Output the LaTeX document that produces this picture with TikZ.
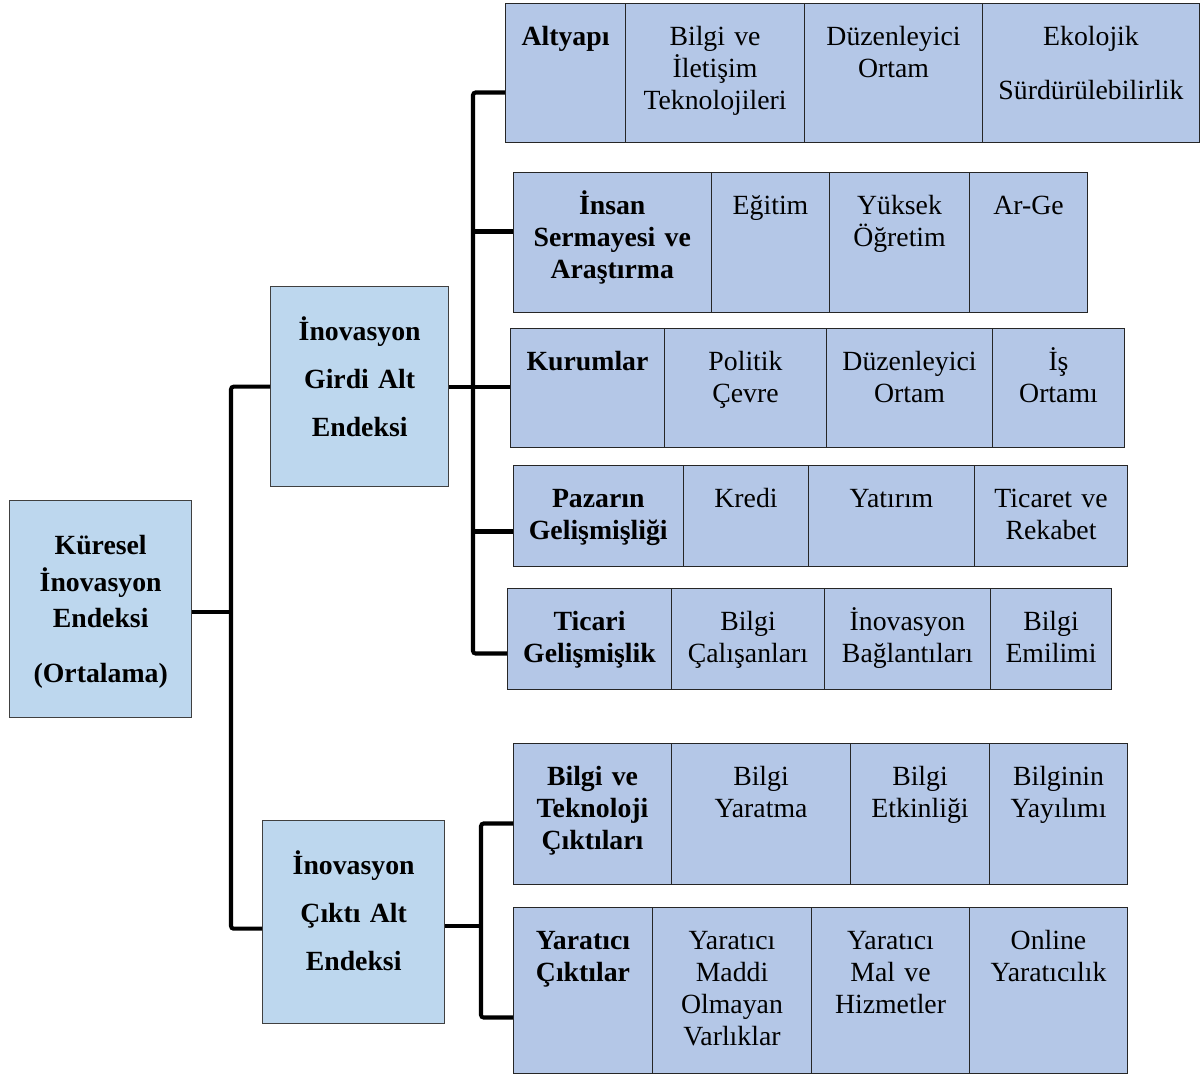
\documentclass[tikz,border=0pt]{standalone}
\usepackage{fontspec}
\setmainfont{Liberation Serif}
\usetikzlibrary{calc}

\begin{document}
\begin{tikzpicture}[
  x=0.02cm, y=-0.02cm,
  mainbox/.style={draw=black!75, line width=0.8pt, rectangle, fill=rootblue, align=center, font=\fontsize{15.8}{18.2}\selectfont\bfseries, inner sep=0pt, anchor=north west, text height=1.08cm},
  cellbox/.style={draw=black!85, line width=0.6pt, rectangle, fill=cellblue, align=center, font=\fontsize{15.8}{18.2}\selectfont, inner sep=0pt, anchor=north west, text height=0.84cm},
  pillar/.style={cellbox, font=\fontsize{15.8}{18.2}\selectfont\bfseries},
  conn/.style={line width=2.3pt, rounded corners=1.5pt}
]
\definecolor{rootblue}{RGB}{189,215,238}
\definecolor{cellblue}{RGB}{180,199,231}

\useasboundingbox (0,0) rectangle (1200,1074);

% ==================== LEFT: index and sub-indices ====================
\node[mainbox, text width=3.64cm, text depth=3.26cm] (kuresel) at (9,500)
  {Küresel\\[2.6pt]İnovasyon\\[2.6pt]Endeksi\\[13.1pt](Ortalama)};
\node[mainbox, text width=3.56cm, text depth=2.92cm] (girdi) at (270,286)
  {İnovasyon\\[9.1pt]Girdi Alt\\[9.1pt]Endeksi};
\node[mainbox, text width=3.64cm, text depth=2.98cm] (cikti) at (262,820)
  {İnovasyon\\[9.1pt]Çıktı Alt\\[9.1pt]Endeksi};

\draw[conn] ([yshift=-0.05cm]kuresel.east) -- ++(41,0);
\draw[conn] (girdi.west) -- ++(-39,0) |- ([yshift=-0.13cm]cikti.west);

% ==================== RIGHT: input pillars ====================
\node[pillar, text width=2.40cm, text depth=1.94cm] (g_alt) at (505,3) {Altyapı};
\node[cellbox, text width=3.58cm, text depth=1.94cm] (g_alt1) at (625,3) {Bilgi ve\\İletişim\\Teknolojileri};
\node[cellbox, text width=3.56cm, text depth=1.94cm] (g_alt2) at (804,3) {Düzenleyici\\Ortam};
\node[cellbox, text width=4.34cm, text depth=1.94cm] (g_alt3) at (982,3) {Ekolojik\\[12.5pt]Sürdürülebilirlik};

\node[pillar, text width=3.97cm, text depth=1.96cm] (g_ins) at (512.5,172) {İnsan\\Sermayesi ve\\Araştırma};
\node[cellbox, text width=2.36cm, text depth=1.96cm] (g_ins1) at (711,172) {Eğitim};
\node[cellbox, text width=2.80cm, text depth=1.96cm] (g_ins2) at (829,172) {Yüksek\\Öğretim};
\node[cellbox, text width=2.36cm, text depth=1.96cm] (g_ins3) at (969,172) {Ar-Ge};

\node[pillar, text width=3.08cm, text depth=1.54cm] (g_kur) at (510,328) {Kurumlar};
\node[cellbox, text width=3.24cm, text depth=1.54cm] (g_kur1) at (664,328) {Politik\\Çevre};
\node[cellbox, text width=3.32cm, text depth=1.54cm] (g_kur2) at (826,328) {Düzenleyici\\Ortam};
\node[cellbox, text width=2.64cm, text depth=1.54cm] (g_kur3) at (992,328) {İş\\Ortamı};

\node[pillar, text width=3.41cm, text depth=1.18cm] (g_paz) at (512.5,465) {Pazarın\\Gelişmişliği};
\node[cellbox, text width=2.50cm, text depth=1.18cm] (g_paz1) at (683,465) {Kredi};
\node[cellbox, text width=3.32cm, text depth=1.18cm] (g_paz2) at (808,465) {Yatırım};
\node[cellbox, text width=3.06cm, text depth=1.18cm] (g_paz3) at (974,465) {Ticaret ve\\Rekabet};

\node[pillar, text width=3.28cm, text depth=1.18cm] (g_tic) at (507,588) {Ticari\\Gelişmişlik};
\node[cellbox, text width=3.06cm, text depth=1.18cm] (g_tic1) at (671,588) {Bilgi\\Çalışanları};
\node[cellbox, text width=3.32cm, text depth=1.18cm] (g_tic2) at (824,588) {İnovasyon\\Bağlantıları};
\node[cellbox, text width=2.42cm, text depth=1.18cm] (g_tic3) at (990,588) {Bilgi\\Emilimi};

\draw[conn] ([yshift=-0.39cm]g_alt.west) -- ++(-32,0) |- ([yshift=-0.29cm]g_tic.west);
\draw[conn] ([yshift=0.22cm]g_ins.west) -- ++(-39.5,0);
\draw[conn] (girdi.east) -- (girdi.east -| g_kur.west);
\draw[conn] ([yshift=-0.31cm]g_paz.west) -- ++(-39.5,0);

% ==================== RIGHT: output pillars ====================
\node[pillar, text width=3.16cm, text depth=1.98cm] (c_bt) at (513,743) {Bilgi ve\\Teknoloji\\Çıktıları};
\node[cellbox, text width=3.58cm, text depth=1.98cm] (c_bt1) at (671,743) {Bilgi\\Yaratma};
\node[cellbox, text width=2.78cm, text depth=1.98cm] (c_bt2) at (850,743) {Bilgi\\Etkinliği};
\node[cellbox, text width=2.76cm, text depth=1.98cm] (c_bt3) at (989,743) {Bilginin\\Yayılımı};

\node[pillar, text width=2.78cm, text depth=2.48cm] (c_yc) at (513,907) {Yaratıcı\\Çıktılar};
\node[cellbox, text width=3.18cm, text depth=2.48cm] (c_yc1) at (652,907) {Yaratıcı\\Maddi\\Olmayan\\Varlıklar};
\node[cellbox, text width=3.16cm, text depth=2.48cm] (c_yc2) at (811,907) {Yaratıcı\\Mal ve\\Hizmetler};
\node[cellbox, text width=3.16cm, text depth=2.48cm] (c_yc3) at (969,907) {Online\\Yaratıcılık};

\draw[conn] ([yshift=-0.19cm]c_bt.west) -- ++(-32,0) |- ([yshift=-0.54cm]c_yc.west);
\draw[conn] ([yshift=-0.07cm]cikti.east) -- ++(37,0);

\end{tikzpicture}
\end{document}
